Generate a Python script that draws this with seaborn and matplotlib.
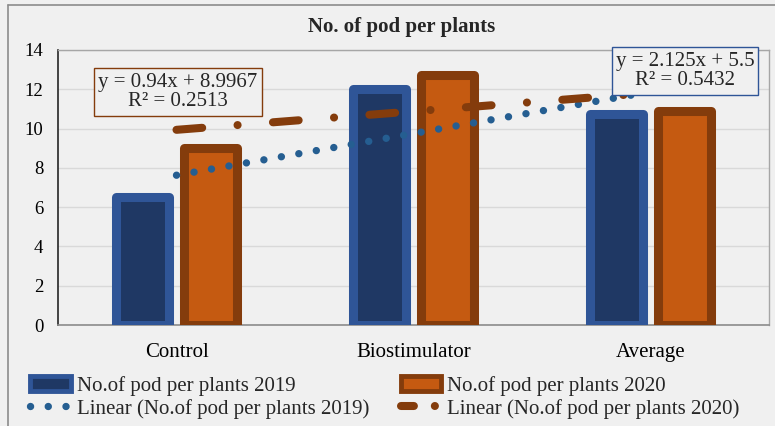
import numpy as np
import pandas as pd
import matplotlib
matplotlib.use("Agg")
import matplotlib.pyplot as plt
import seaborn as sns
from matplotlib.patches import Patch
from matplotlib.lines import Line2D

categories = ["Control", "Biostimulator", "Average"]
values_2019 = [6.5, 12.0, 10.75]
values_2020 = [9.0, 12.75, 10.88]
series_names = ["No.of pod per plants 2019", "No.of pod per plants 2020"]
trend_names = ["Linear (No.of pod per plants 2019)", "Linear (No.of pod per plants 2020)"]
eq_2019 = "y = 2.125x + 5.5\nR² = 0.5432"
eq_2020 = "y = 0.94x + 8.9967\nR² = 0.2513"
title = "No. of pod per plants"
yticks = [0, 2, 4, 6, 8, 10, 12, 14]

BG = "#f0f0f0"
FILL19, EDGE19 = "#1f3864", "#2f5597"
FILL20, EDGE20 = "#c55a11", "#843c0c"
TREND19, TREND20 = "#255e91", "#843c0c"

sns.set_theme(style="white")
plt.rcParams["font.family"] = ["Liberation Serif", "DejaVu Serif"]

W, H = 775, 426
fig = plt.figure(figsize=(W / 100, H / 100), dpi=100, facecolor=BG)
ax = fig.add_axes([58 / W, 1 - 325 / H, (769 - 58) / W, 275 / H])
ax.set_facecolor(BG)

df = pd.DataFrame({
    "cat": categories * 2,
    "val": values_2019 + values_2020,
    "series": [series_names[0]] * 3 + [series_names[1]] * 3,
})
sns.barplot(data=df, x="cat", y="val", hue="series", order=categories,
            hue_order=series_names, palette=[FILL19, FILL20],
            width=0.574, gap=0.233, linewidth=6.5, saturation=1,
            legend=False, ax=ax, zorder=3)
for cont, ec in zip(ax.containers, [EDGE19, EDGE20]):
    for p in cont:
        p.set_edgecolor(ec)
        p.set_linewidth(6.5)
        p.set_joinstyle("round")

xs = np.arange(len(categories))
LW19, LW20 = 5.3, 5.8
for vals, col, lw, dash in [(values_2019, TREND19, LW19, (0.01, 2.4)),
                            (values_2020, TREND20, LW20, (3.2, 4.4, 0.01, 4.4))]:
    m, b = np.polyfit(xs + 1, vals, 1)
    yy = m * (xs + 1) + b
    ln, = ax.plot(xs, yy, color=col, lw=lw, zorder=5, solid_capstyle="round")
    ln.set_dashes(dash)
    ln.set_dash_capstyle("round")

ax.set_ylim(0, 14)
ax.set_xlim(-0.5, 2.5)
ax.set_yticks(yticks)
ax.set_yticklabels([str(t) for t in yticks])
ax.yaxis.grid(True, color="#d9d9d9", lw=1, zorder=0)
ax.set_axisbelow(True)
ax.tick_params(axis="y", length=0, pad=10.5, labelsize=13.5, colors="#000000")
ax.tick_params(axis="x", length=0, pad=13, labelsize=15, colors="#000000")
ax.set_xlabel("")
ax.set_ylabel("")
for s in ["top", "right"]:
    ax.spines[s].set_color("#a6a6a6")
    ax.spines[s].set_linewidth(1)
ax.spines["bottom"].set_color("#8c8c8c")
ax.spines["bottom"].set_linewidth(1.2)
ax.spines["left"].set_color("#262626")
ax.spines["left"].set_linewidth(1.2)

fig.text(402 / W, 1 - 27 / H, title, ha="center", va="center",
         fontsize=15, fontweight="bold")

fig.text(178 / W, 1 - 92 / H, eq_2020, ha="center", va="center", fontsize=15,
         linespacing=1.05,
         bbox=dict(boxstyle="square,pad=0.2", fc=BG, ec=EDGE20, lw=1))
fig.text(685 / W, 1 - 71 / H, eq_2019, ha="center", va="center", fontsize=15,
         linespacing=1.05,
         bbox=dict(boxstyle="square,pad=0.2", fc=BG, ec=EDGE19, lw=1), zorder=1)

handles = [
    Patch(facecolor=FILL19, edgecolor=EDGE19, linewidth=3.5),
    Line2D([0], [0], color=TREND19, lw=LW19, dashes=(0.01, 2.4), dash_capstyle="round"),
    Patch(facecolor=FILL20, edgecolor=EDGE20, linewidth=3.5),
    Line2D([0], [0], color=TREND20, lw=LW20, dashes=(1.6, 2.6, 0.01, 5), dash_capstyle="round"),
]
labels = [series_names[0], trend_names[0], series_names[1], trend_names[1]]
fig.legend(handles, labels, ncol=2, loc="upper left",
           bbox_to_anchor=(30 / W, 1 - 376 / H), frameon=False,
           fontsize=15, handlelength=1.95, handleheight=0.75, handletextpad=0.3,
           columnspacing=1.5, labelspacing=0.15, borderaxespad=0, borderpad=0)

fig.add_artist(Line2D([8 / W, 8 / W], [0, 1 - 5 / H], transform=fig.transFigure,
                      color="#8c8c8c", lw=1.2))
fig.add_artist(Line2D([8 / W, 1], [1 - 5 / H, 1 - 5 / H], transform=fig.transFigure,
                      color="#8c8c8c", lw=1.2))

fig.savefig("out.png", dpi=100, facecolor=BG)
